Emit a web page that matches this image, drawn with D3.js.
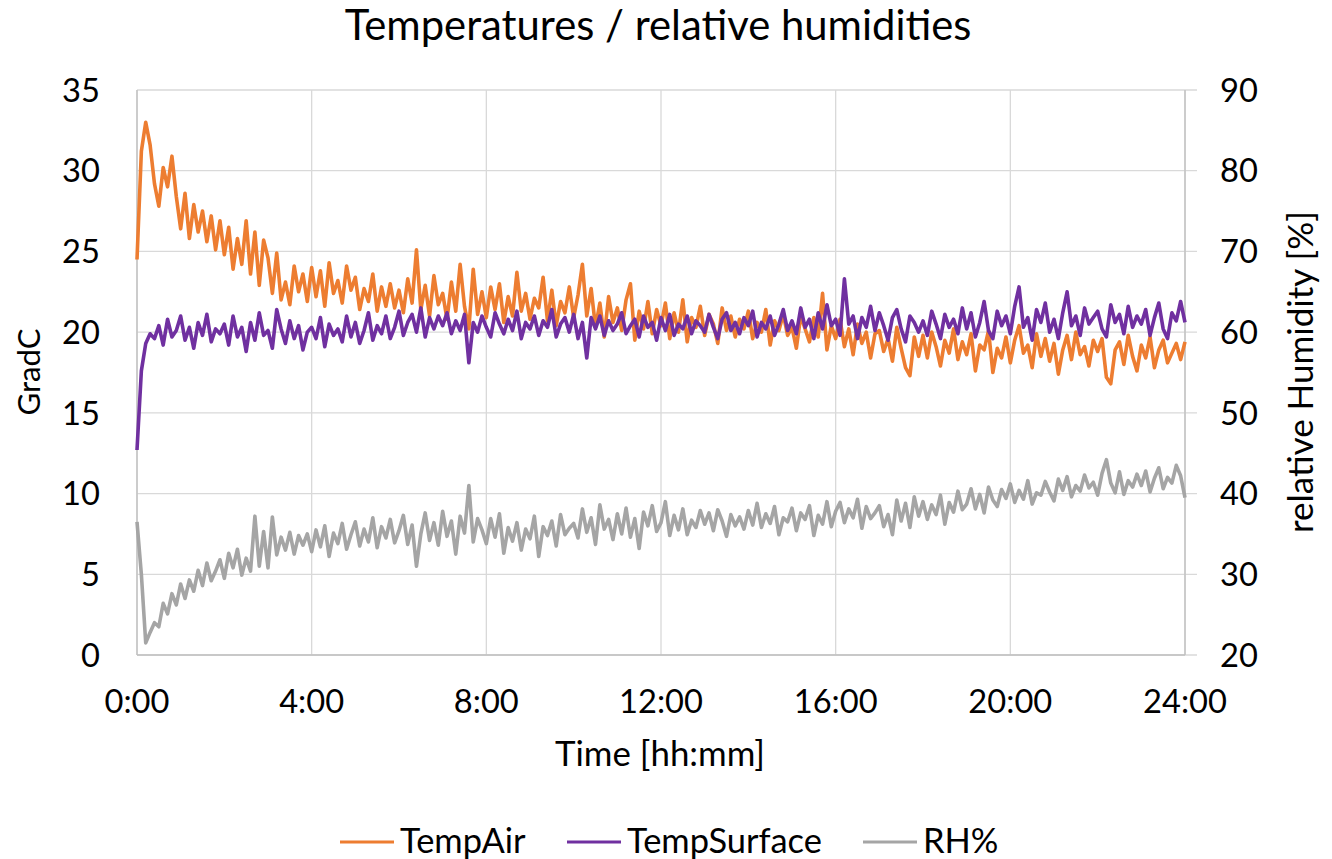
<!DOCTYPE html>
<html>
<head>
<meta charset="utf-8">
<script src="https://cdn.jsdelivr.net/npm/d3@7/dist/d3.min.js"></script>
<style>
  html, body { margin: 0; padding: 0; background: #fff; }
  svg { display: block; }
  text { font-family: Lato, "Open Sans", sans-serif; fill: #000; }
</style>
</head>
<body>
<svg id="chart" width="1332" height="859"></svg>
<script>
// ---------- DATA (sampled every 6 minutes, 0:00 .. 24:00) ----------
const stepHours = 0.1;
const xTickHours = [0, 4, 8, 12, 16, 20, 24];
const leftTicks = [0, 5, 10, 15, 20, 25, 30, 35];
const rightTicks = [20, 30, 40, 50, 60, 70, 80, 90];
const seriesNames = ["TempAir", "TempSurface", "RH%"];

const tempAir = [
  24.5, 31.2, 33.0, 31.6, 29.2, 27.8, 30.2, 29.0, 30.9, 28.4,
  26.4, 28.6, 25.8, 27.9, 26.2, 27.5, 25.6, 27.2, 25.1, 26.9,
  24.8, 26.5, 23.9, 25.8, 24.2, 26.9, 23.6, 26.2, 22.9, 25.7,
  24.6, 22.4, 24.9, 22.0, 23.1, 21.7, 24.1, 22.5, 23.6, 21.9,
  24.0, 22.2, 23.8, 21.6, 24.3, 22.4, 23.2, 21.8, 24.1, 22.6,
  23.4, 21.4, 22.7, 21.9, 23.6, 21.3, 22.8, 21.6, 23.0, 21.5,
  22.6, 21.2, 23.3, 21.8, 25.1, 21.4, 22.9, 21.0, 23.5, 21.7,
  22.4, 20.8, 23.1, 21.3, 24.2, 21.6, 20.2, 23.9, 21.1, 22.5,
  20.9, 22.8, 21.4, 23.0, 20.6, 22.2, 21.0, 23.7, 21.3, 22.4,
  20.8, 22.1, 21.5, 23.4, 20.7, 22.6, 20.4, 21.9, 21.2, 22.8,
  20.9, 22.3, 24.2, 21.0, 22.7, 20.3, 21.8, 19.7, 22.2, 20.6,
  21.5, 20.1, 22.0, 23.0, 19.5, 21.3, 20.2, 21.9, 19.9, 21.4,
  20.4, 21.8, 19.6, 21.2, 20.0, 22.0, 19.4, 20.9, 20.3, 21.6,
  19.8, 21.1, 20.5, 19.3, 21.5, 20.1, 21.0, 19.7, 20.8, 20.2,
  21.3, 19.6, 20.6, 20.0, 21.4, 19.2, 20.7, 20.1, 21.1, 19.8,
  20.3, 19.0, 21.0, 20.2, 19.4, 20.9, 19.7, 22.4, 18.9, 20.4,
  19.6, 20.8, 19.1, 20.2, 18.6, 20.5, 19.3, 20.0, 18.4, 19.9,
  20.1, 18.8, 19.6, 18.2, 20.3, 19.0, 17.8, 17.3, 19.7, 18.5,
  19.8, 18.4, 20.0, 19.1, 17.9, 19.5, 18.7, 20.2, 18.3, 19.4,
  18.6, 19.9, 17.6, 19.2, 18.9, 20.1, 17.5, 19.0, 18.4, 19.7,
  18.1, 19.5, 20.4, 18.7, 19.2, 17.8, 19.9, 18.5, 19.6, 18.2,
  19.3, 17.4, 18.9, 19.8, 18.3, 20.0, 18.6, 19.1, 17.9, 19.5,
  18.8, 19.6, 17.2, 16.8, 18.9, 19.4, 18.0, 19.8, 18.5, 17.6,
  19.2, 18.4, 19.7, 17.8, 18.9, 19.5, 18.1, 18.7, 19.3, 18.3,
  19.4
];

const tempSurface = [
  12.7, 17.6, 19.3, 19.9, 19.6, 20.4, 19.2, 20.8, 19.7, 20.1,
  21.0, 19.5, 20.3, 19.0, 20.6, 19.8, 21.1, 19.4, 20.2, 19.9,
  20.5, 19.2, 21.0, 19.7, 20.3, 18.8, 20.6, 19.5, 21.2, 19.8,
  20.1, 19.0, 21.4, 20.2, 19.3, 20.7, 19.6, 20.4, 18.9, 20.0,
  20.3, 19.6, 20.9, 19.1, 20.5, 19.8, 20.2, 19.4, 21.0, 19.7,
  20.6, 19.3, 20.1, 21.2, 19.5, 20.4, 19.9, 21.0, 19.6, 20.3,
  21.3, 19.8, 20.6, 21.1, 20.0, 21.5, 19.7, 20.9, 20.2, 21.0,
  20.4, 21.2, 19.9, 20.7, 20.1, 21.1, 18.1, 20.6, 20.0, 21.0,
  20.3, 19.7, 21.2, 20.5, 19.9, 20.8, 20.1, 21.3, 19.6, 20.6,
  20.2, 21.0, 19.8, 20.7, 20.3, 21.4, 19.7, 20.5, 20.9, 20.0,
  21.1, 19.6, 20.6, 18.4, 20.9, 20.2, 21.0, 19.8, 20.7, 20.1,
  20.5, 21.2, 19.9, 20.4, 20.8, 19.7, 21.0, 20.3, 20.6, 19.5,
  20.9, 20.1, 21.1, 19.8, 20.5, 20.2, 21.0, 19.9, 20.7, 20.4,
  20.0, 21.1, 20.3, 19.6, 20.8, 21.2, 20.1, 20.6, 19.9, 20.9,
  20.4, 21.3, 19.7, 20.6, 20.2, 21.0, 19.8, 20.5, 21.4, 20.1,
  20.7, 19.9, 21.5, 20.3, 20.8, 19.6, 21.2, 20.2, 21.7, 20.4,
  20.8, 19.8, 23.3, 20.5, 21.0, 19.6, 20.9, 20.3, 21.6, 20.1,
  21.2, 20.4, 19.5, 20.9, 21.4, 20.2, 19.4, 21.0, 20.6, 20.0,
  20.7, 19.8, 21.3, 20.5, 19.6, 21.1, 20.3, 20.8, 19.9, 21.5,
  20.2, 21.2, 19.7, 20.6, 21.9, 20.1, 19.6, 21.3, 20.4, 21.0,
  19.9, 21.6, 22.8, 20.3, 20.9, 19.5, 21.4, 20.6, 21.8, 20.0,
  20.8, 19.6, 21.2, 22.5, 20.4, 21.0, 19.8, 21.5, 20.5, 20.9,
  21.3, 20.2, 19.7, 21.7, 20.6, 21.1, 19.9, 21.6, 20.3, 21.0,
  20.5, 21.4, 19.8, 20.9, 21.8, 20.2, 19.6, 21.2, 20.7, 21.9,
  20.6
];

const relHumidity = [
  36.5, 30.0, 21.5, 22.8, 24.0, 23.5, 26.4, 25.1, 27.6, 26.2,
  28.8, 27.0, 29.3, 27.9, 30.5, 28.6, 31.4, 29.2, 30.4, 31.8,
  29.5, 32.6, 30.8, 33.1, 29.9, 32.0, 30.4, 37.2, 31.0, 35.3,
  30.8, 37.1, 32.4, 34.6, 33.0, 35.2, 32.5, 34.8, 33.6, 35.0,
  32.8, 35.5, 33.4, 36.0, 32.2, 35.1, 33.8, 36.3, 33.1, 34.9,
  36.5, 33.5, 35.6, 34.0, 37.0, 33.3, 35.9, 34.5, 36.8, 33.9,
  35.4, 37.3, 33.7, 36.1, 31.0, 35.0, 37.6, 34.2, 36.4, 33.6,
  37.8, 34.7, 36.6, 32.5, 37.2, 35.1, 41.0, 34.0, 36.9, 35.5,
  33.8, 36.9, 34.6, 37.5, 32.6, 35.8, 34.1, 36.4, 33.0, 35.6,
  34.4, 37.2, 32.2, 35.9, 34.8, 36.6, 33.5, 37.4, 34.9, 35.7,
  36.3, 34.5, 38.1, 35.2, 37.0, 33.7, 38.6, 35.6, 36.8, 34.3,
  37.5, 35.0, 38.2, 34.6, 36.9, 33.2, 37.7, 36.0, 38.5, 35.3,
  36.4, 39.0, 34.8, 37.3, 35.5, 38.1, 34.9, 36.7, 35.8, 37.9,
  36.2, 37.6, 35.4, 38.0, 36.6, 34.7, 37.4, 36.0, 37.1, 35.6,
  37.9, 36.1, 38.8, 35.8, 37.5, 36.3, 38.4, 34.9, 37.0, 36.5,
  38.2, 35.4, 37.6, 36.8, 38.5, 34.8, 37.3, 36.2, 39.0, 35.9,
  37.8, 38.9, 36.4, 38.1, 37.0, 39.3, 35.7, 38.4, 36.9, 37.6,
  38.5, 35.9, 37.4, 34.9, 39.2, 36.6, 38.8, 35.8, 39.6, 37.2,
  39.0, 36.8, 38.6, 37.4, 39.8, 36.2, 38.9, 37.7, 40.3, 38.0,
  38.7, 40.6, 38.1, 39.9, 37.6, 40.8, 39.2, 38.4, 40.5, 39.4,
  41.2, 38.9, 40.4, 39.3, 41.6, 38.7, 40.1, 39.8, 41.5, 40.2,
  39.1, 41.8, 40.4, 42.1, 39.6, 41.0, 40.3, 42.3, 40.7, 41.4,
  39.8, 42.5, 44.2, 41.3, 40.1, 42.7, 39.9, 41.6, 40.8, 42.4,
  41.0, 42.8, 40.2, 41.9, 43.2, 40.6, 42.0, 41.3, 43.5, 42.2,
  39.5
];

const colors = ["#ED7D31", "#7030A0", "#A5A5A5"];

// ---------- LAYOUT ----------
const svg = d3.select("#chart");
const plot = { left: 137, right: 1185, top: 90, bottom: 655 };

const x = d3.scaleLinear().domain([0, 24]).range([plot.left, plot.right]);
const yL = d3.scaleLinear().domain([0, 35]).range([plot.bottom, plot.top]);
const yR = d3.scaleLinear().domain([20, 90]).range([plot.bottom, plot.top]);

function fitSize(sel, target) {
  const base = 30;
  sel.style("font-size", base + "px");
  const w = sel.node().getComputedTextLength();
  const s = base * target / w;
  sel.style("font-size", s + "px");
  return s;
}

// gridlines
const grid = svg.append("g");
grid.selectAll("line.h").data(leftTicks).join("line")
  .attr("x1", plot.left).attr("x2", plot.right + 12)
  .attr("y1", d => yL(d)).attr("y2", d => yL(d))
  .attr("stroke", "#d9d9d9").attr("stroke-width", 1.3);
grid.selectAll("line.v").data(xTickHours).join("line")
  .attr("x1", d => x(d)).attr("x2", d => x(d))
  .attr("y1", plot.top).attr("y2", plot.bottom)
  .attr("stroke", "#d9d9d9").attr("stroke-width", 1.3);
// axes lines
svg.append("line").attr("x1", plot.left).attr("x2", plot.left)
  .attr("y1", plot.top).attr("y2", plot.bottom).attr("stroke", "#bfbfbf").attr("stroke-width", 1.3);
svg.append("line").attr("x1", plot.right).attr("x2", plot.right)
  .attr("y1", plot.top).attr("y2", plot.bottom).attr("stroke", "#bfbfbf").attr("stroke-width", 1.3);
svg.append("line").attr("x1", plot.left).attr("x2", plot.right)
  .attr("y1", plot.bottom).attr("y2", plot.bottom).attr("stroke", "#bfbfbf").attr("stroke-width", 1.3);

// series lines
const allSeries = [
  { vals: tempAir, y: yL },
  { vals: tempSurface, y: yL },
  { vals: relHumidity, y: yR }
];
allSeries.forEach((s, k) => {
  const line = d3.line()
    .x((d, i) => x(i * stepHours))
    .y(d => s.y(d));
  svg.append("path")
    .datum(s.vals)
    .attr("d", line)
    .attr("fill", "none")
    .attr("stroke", colors[k])
    .attr("stroke-width", 3.6)
    .attr("stroke-linejoin", "round");
});

// tick label size based on "0:00" width
const probe = svg.append("text").text("0:00");
const tickSize = fitSize(probe, 65);
probe.remove();

// left tick labels
svg.append("g").selectAll("text").data(leftTicks).join("text")
  .attr("x", 100).attr("y", d => yL(d) + tickSize * 0.36)
  .attr("text-anchor", "end").style("font-size", tickSize + "px")
  .text(d => d);
// right tick labels
svg.append("g").selectAll("text").data(rightTicks).join("text")
  .attr("x", 1220).attr("y", d => yR(d) + tickSize * 0.36)
  .attr("text-anchor", "start").style("font-size", tickSize + "px")
  .text(d => d);
// x tick labels
svg.append("g").selectAll("text").data(xTickHours).join("text")
  .attr("x", d => x(d)).attr("y", 713)
  .attr("text-anchor", "middle").style("font-size", tickSize + "px")
  .text(d => d + ":00");

// title
const title = svg.append("text").attr("x", 658).attr("y", 40)
  .attr("text-anchor", "middle").text("Temperatures / relative humidities");
fitSize(title, 627);

// axis titles
const xt = svg.append("text").attr("x", 660).attr("y", 766)
  .attr("text-anchor", "middle").text("Time [hh:mm]");
fitSize(xt, 210);

const ylt = svg.append("text").attr("text-anchor", "middle")
  .attr("transform", "translate(40,372) rotate(-90)").text("GradC");
fitSize(ylt, 87);

const yrt = svg.append("text").attr("text-anchor", "middle")
  .attr("transform", "translate(1313,372) rotate(-90)").text("relative Humidity [%]");
fitSize(yrt, 322);

// legend
const legendX = [340, 567, 863];
const legend = svg.append("g");
const probe2 = svg.append("text").text("TempSurface");
const legSize = fitSize(probe2, 195);
probe2.remove();
seriesNames.forEach((name, k) => {
  legend.append("line")
    .attr("x1", legendX[k]).attr("x2", legendX[k] + 54)
    .attr("y1", 842).attr("y2", 842)
    .attr("stroke", colors[k]).attr("stroke-width", 3);
  legend.append("text")
    .attr("x", legendX[k] + 60).attr("y", 853)
    .style("font-size", legSize + "px")
    .text(name);
});
</script>
</body>
</html>
